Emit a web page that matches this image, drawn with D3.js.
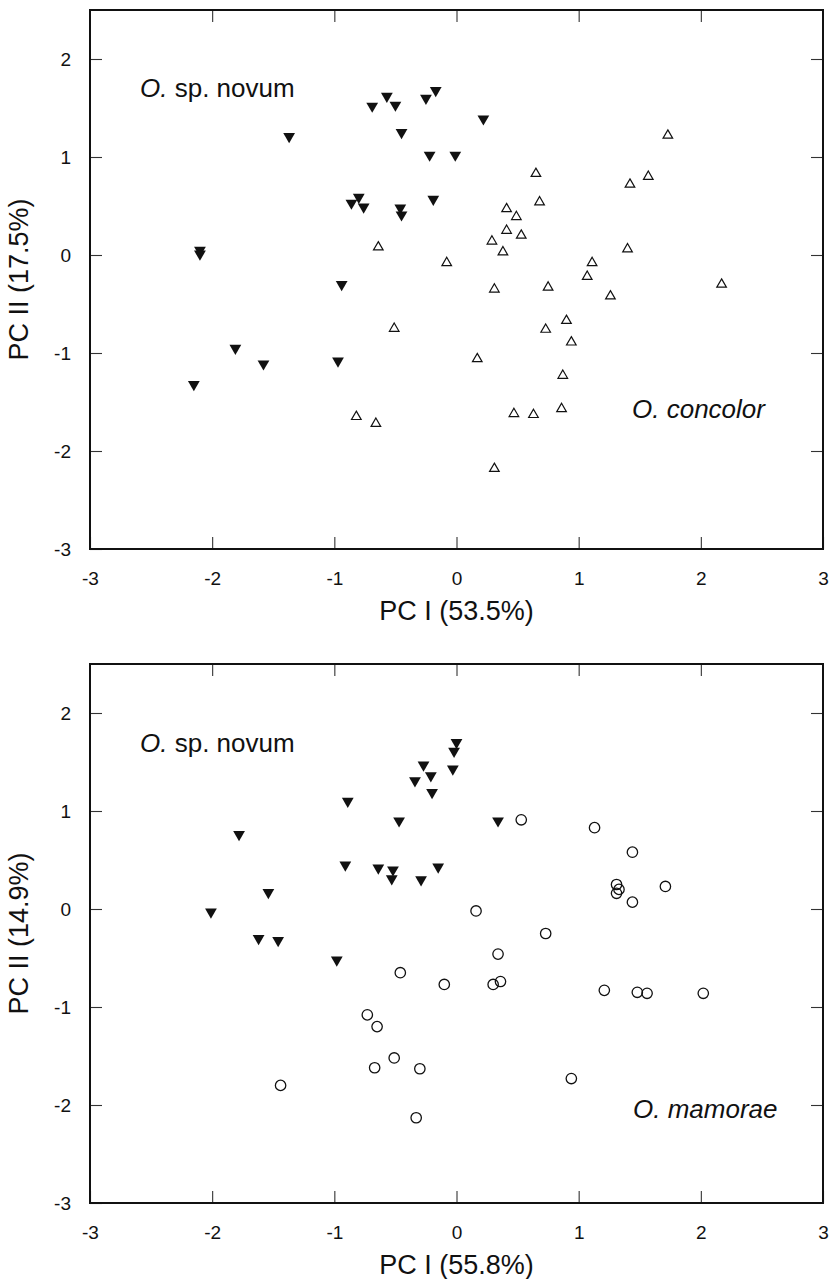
<!DOCTYPE html>
<html>
<head>
<meta charset="utf-8">
<script src="https://cdn.jsdelivr.net/npm/d3@7"></script>
<style>
  body { margin: 0; background: #fff; }
  text { font-family: "Liberation Sans", Arial, sans-serif; fill: #111; }
</style>
</head>
<body>
<script>
// tick labels shared by both panels
const xTicks = [-3, -2, -1, 0, 1, 2, 3];
const yTicks = [-3, -2, -1, 0, 1, 2];

// panel A: O. sp. novum vs O. concolor
const novumA = [
  [-0.57, 1.62], [-0.69, 1.52], [-0.50, 1.53], [-1.37, 1.21], [-0.45, 1.25],
  [-0.86, 0.53], [-0.80, 0.59], [-0.76, 0.49], [-0.46, 0.48], [-0.45, 0.41],
  [-2.10, 0.05], [-2.10, 0.01], [-0.94, -0.30],
  [-0.25, 1.60], [-0.17, 1.68], [0.22, 1.39], [-0.22, 1.02], [-0.01, 1.02], [-0.19, 0.57],
  [-1.81, -0.95], [-1.58, -1.11], [-2.15, -1.32], [-0.97, -1.08]
];
const concolor = [
  [1.73, 1.22], [0.65, 0.83], [1.57, 0.80], [1.42, 0.72], [0.68, 0.54],
  [0.41, 0.47], [0.49, 0.39], [0.41, 0.25], [0.53, 0.20], [0.29, 0.14],
  [0.38, 0.03], [1.40, 0.06], [-0.08, -0.08], [1.11, -0.08], [1.07, -0.22],
  [0.31, -0.35], [0.75, -0.33], [2.17, -0.30], [1.26, -0.42], [-0.64, 0.08],
  [0.90, -0.67], [0.73, -0.76], [0.94, -0.89], [0.17, -1.06], [0.87, -1.23],
  [0.47, -1.62], [0.63, -1.63], [0.86, -1.57], [0.31, -2.18],
  [-0.51, -0.75], [-0.82, -1.65], [-0.66, -1.72]
];

// panel B: O. sp. novum vs O. mamorae
const novumB = [
  [-0.89, 1.10], [-1.78, 0.76], [-0.47, 0.90], [-0.91, 0.45], [-0.64, 0.42],
  [-0.52, 0.40], [-0.53, 0.31], [-0.34, 1.31], [-1.54, 0.17], [-2.01, -0.03],
  [-1.62, -0.30], [-1.46, -0.32], [-0.98, -0.52],
  [0.00, 1.70], [-0.02, 1.61], [-0.27, 1.47], [-0.21, 1.36], [-0.03, 1.43],
  [-0.20, 1.19], [0.34, 0.90], [-0.15, 0.43], [-0.29, 0.30]
];
const mamorae = [
  [0.53, 0.91], [1.13, 0.83], [1.44, 0.58], [1.31, 0.25], [1.33, 0.20],
  [1.31, 0.16], [1.71, 0.23], [1.44, 0.07], [0.16, -0.02], [0.73, -0.25],
  [0.34, -0.46], [-0.10, -0.77], [0.30, -0.77], [0.36, -0.74], [1.21, -0.83],
  [1.48, -0.85], [1.56, -0.86], [2.02, -0.86], [-0.30, -1.63], [0.94, -1.73],
  [-0.33, -2.13], [-0.46, -0.65], [-0.73, -1.08], [-0.65, -1.20], [-0.51, -1.52],
  [-0.67, -1.62], [-1.44, -1.80]
];

const panels = [
  { top: 10, filled: novumA, open: concolor, shape: 'triangle',
    xTitle: 'PC I (53.5%)', yTitle: 'PC II (17.5%)',
    name: 'concolor', nameX: 632, nameY: 418, novumY: 97 },
  { top: 664, filled: novumB, open: mamorae, shape: 'circle',
    xTitle: 'PC I (55.8%)', yTitle: 'PC II (14.9%)',
    name: 'mamorae', nameX: 633, nameY: 1118, novumY: 752 }
];

const svg = d3.select('body')
  .append('svg')
  .attr('width', 831)
  .attr('height', 1279);

const left = 90;
const right = 823;
const plotH = 539;

panels.forEach(p => {
  const bottom = p.top + plotH;
  const x = d3.scaleLinear().domain([-3, 3]).range([left, right]);
  const y = d3.scaleLinear().domain([-3, 2.5]).range([bottom, p.top]);
  const g = svg.append('g');

  // axes with inward ticks
  g.append('g')
    .attr('transform', `translate(0,${bottom})`)
    .call(d3.axisBottom(x).tickValues(xTicks).tickSize(-12).tickPadding(23)
      .tickFormat(d => String(d)));
  g.append('g')
    .attr('transform', `translate(${left},0)`)
    .call(d3.axisLeft(y).tickValues(yTicks).tickSize(-12).tickPadding(19)
      .tickFormat(d => String(d)));
  g.append('g')
    .attr('transform', `translate(0,${p.top})`)
    .call(d3.axisTop(x).tickValues([-2, -1, 0, 1, 2]).tickSize(-12).tickFormat(''));
  g.append('g')
    .attr('transform', `translate(${right},0)`)
    .call(d3.axisRight(y).tickValues([-2, -1, 0, 1, 2]).tickSize(-12).tickFormat(''));

  g.selectAll('.domain').remove();
  g.selectAll('.tick line').attr('stroke', '#333').attr('stroke-width', 1.1);
  g.selectAll('.tick text')
    .attr('fill', '#111')
    .attr('font-size', null)
    .style('font-size', '19px')
    .style('font-family', '"Liberation Sans", Arial, sans-serif');

  // frame
  g.append('rect')
    .attr('x', left)
    .attr('y', p.top)
    .attr('width', right - left)
    .attr('height', plotH)
    .attr('fill', 'none')
    .attr('stroke', '#111')
    .attr('stroke-width', 2);

  // O. sp. novum: filled down triangles
  g.selectAll('.novum')
    .data(p.filled)
    .enter()
    .append('path')
    .attr('d', d3.symbol().type(d3.symbolTriangle).size(60))
    .attr('transform', d => `translate(${x(d[0])},${y(d[1])}) rotate(180)`)
    .attr('fill', '#111');

  // second species
  if (p.shape === 'triangle') {
    g.selectAll('.other')
      .data(p.open)
      .enter()
      .append('path')
      .attr('d', d3.symbol().type(d3.symbolTriangle).size(40))
      .attr('transform', d => `translate(${x(d[0])},${y(d[1])})`)
      .attr('fill', 'none')
      .attr('stroke', '#111')
      .attr('stroke-width', 1.2);
  } else {
    g.selectAll('.other')
      .data(p.open)
      .enter()
      .append('circle')
      .attr('cx', d => x(d[0]))
      .attr('cy', d => y(d[1]))
      .attr('r', 5.2)
      .attr('fill', 'none')
      .attr('stroke', '#111')
      .attr('stroke-width', 1.3);
  }

  // species labels
  const nov = g.append('text')
    .attr('x', 140)
    .attr('y', p.novumY)
    .style('font-size', '26px');
  nov.append('tspan').style('font-style', 'italic').text('O.');
  nov.append('tspan').text(' sp. novum');

  g.append('text')
    .attr('x', p.nameX)
    .attr('y', p.nameY)
    .style('font-size', '26px')
    .style('font-style', 'italic')
    .text(`O. ${p.name}`);

  // axis titles
  g.append('text')
    .attr('x', (left + right) / 2 + 0)
    .attr('y', bottom + 71)
    .style('text-anchor', 'middle')
    .style('font-size', '27px')
    .text(p.xTitle);

  g.append('text')
    .attr('transform', `translate(28,${(p.top + bottom) / 2}) rotate(-90)`)
    .style('text-anchor', 'middle')
    .style('font-size', '27px')
    .text(p.yTitle);
});
</script>
</body>
</html>
